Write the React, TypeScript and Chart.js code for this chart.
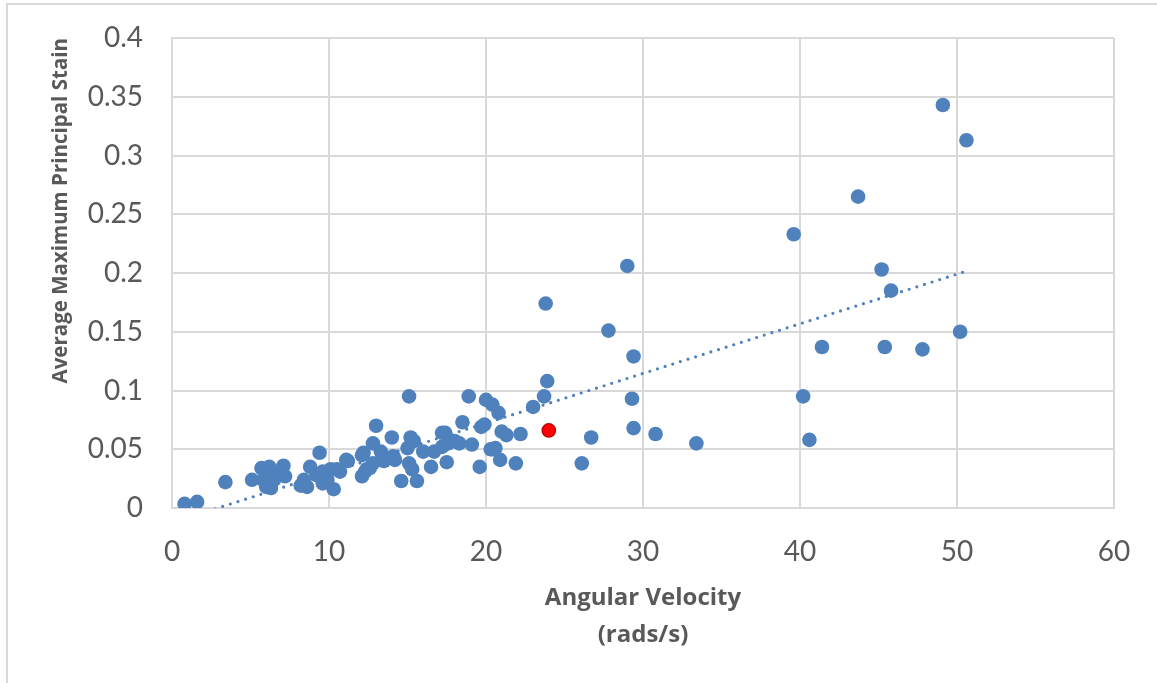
import React, { useEffect, useRef } from "react";
import { Chart, registerables } from "chart.js";

Chart.register(...registerables);

// Angular velocity (rads/s) of each test
const velocity: number[] = [
  0.8, 1.6, 3.4, 5.1, 5.7, 6.2, 7.1, 5.8, 6.0, 6.3, 6.5, 6.8, 7.2, 6.0, 6.5,
  8.2, 8.4, 8.6, 8.8, 9.4, 9.2, 9.6, 9.6, 9.9, 10.1, 10.5, 10.3, 10.7, 11.2,
  11.1, 12.1, 12.2, 12.3, 12.1, 12.4, 12.6, 12.8, 12.8, 13.0, 13.3, 13.5, 13.9,
  14.0, 14.1, 14.2, 14.6, 15.0, 15.1, 15.1, 15.2, 15.3, 15.4, 15.6, 16.0, 16.5,
  16.7, 17.2, 17.2, 17.4, 17.5, 17.6, 18.0, 18.3, 18.5, 18.9, 19.1, 19.6, 19.7,
  19.9, 20.0, 20.3, 20.4, 20.4, 20.6, 20.8, 20.9, 21.0, 21.3, 21.9, 22.2, 23.0,
  23.7, 23.9, 23.8, 26.1, 26.7, 27.8, 29.0, 29.3, 29.4, 29.4, 30.8, 33.4, 39.6,
  40.2, 40.6, 41.4, 43.7, 45.2, 45.4, 45.8, 47.8, 49.1, 50.2, 50.6,
];

// Average maximum principal strain of each test
const strain: number[] = [
  0.0035, 0.0052, 0.022, 0.024, 0.034, 0.035, 0.036, 0.024, 0.018, 0.017,
  0.024, 0.028, 0.027, 0.030, 0.031, 0.019, 0.024, 0.018, 0.035, 0.047, 0.028,
  0.031, 0.021, 0.024, 0.033, 0.033, 0.016, 0.031, 0.040, 0.041, 0.045, 0.047,
  0.031, 0.027, 0.033, 0.034, 0.038, 0.055, 0.070, 0.048, 0.040, 0.043, 0.060,
  0.044, 0.041, 0.023, 0.051, 0.038, 0.095, 0.060, 0.033, 0.057, 0.023, 0.048,
  0.035, 0.048, 0.052, 0.064, 0.064, 0.039, 0.055, 0.057, 0.055, 0.073, 0.095,
  0.054, 0.035, 0.069, 0.071, 0.092, 0.050, 0.088, 0.050, 0.051, 0.081, 0.041,
  0.065, 0.062, 0.038, 0.063, 0.086, 0.095, 0.108, 0.174, 0.038, 0.060, 0.151,
  0.206, 0.093, 0.129, 0.068, 0.063, 0.055, 0.233, 0.095, 0.058, 0.137, 0.265,
  0.203, 0.137, 0.185, 0.135, 0.343, 0.150, 0.313,
];

// Highlighted test
const highlightVelocity: number[] = [24.0];
const highlightStrain: number[] = [0.066];

// Linear trendline end points
const trendVelocity: number[] = [0.8, 50.6];
const trendStrain: number[] = [-0.0089, 0.2016];

// Axis tick labels
const xTickLabels: string[] = ["0", "10", "20", "30", "40", "50", "60"];
const yTickLabels: string[] = ["0", "0.05", "0.1", "0.15", "0.2", "0.25", "0.3", "0.35", "0.4"];

const BLUE = "#4F81BD";
const GRID = "#d9d9d9";
const TEXT = "#595959";
const TICK_FONT = "Lato, 'Open Sans', sans-serif";
const TITLE_FONT = "'Open Sans', sans-serif";

export default function App() {
  const canvasRef = useRef<HTMLCanvasElement | null>(null);

  useEffect(() => {
    const canvas = canvasRef.current;
    if (!canvas) return;

    const points = velocity.map((x, i) => ({ x, y: strain[i] }));
    const highlight = highlightVelocity.map((x, i) => ({ x, y: highlightStrain[i] }));
    const trend = trendVelocity.map((x, i) => ({ x, y: trendStrain[i] }));

    const chart = new Chart(canvas, {
      type: "scatter",
      data: {
        datasets: [
          {
            label: "Strain",
            data: points,
            backgroundColor: BLUE,
            borderColor: BLUE,
            pointRadius: 7.3,
            pointBorderWidth: 0,
            order: 3,
          },
          {
            label: "Trend",
            type: "line",
            data: trend,
            borderColor: BLUE,
            borderWidth: 3.2,
            borderDash: [0, 8],
            borderCapStyle: "round",
            pointRadius: 0,
            fill: false,
            order: 2,
          } as any,
          {
            label: "Highlight",
            data: highlight,
            backgroundColor: "#FF0000",
            borderColor: "#C00000",
            pointRadius: 6.6,
            pointBorderWidth: 1.5,
            order: 1,
          },
        ],
      },
      options: {
        responsive: false,
        animation: false,
        layout: { padding: { top: 38, right: 43, left: 0, bottom: 0 } },
        plugins: {
          legend: { display: false },
          tooltip: { enabled: false },
        },
        scales: {
          x: {
            type: "linear",
            min: 0,
            max: 60,
            afterBuildTicks: (scale: any) => {
              scale.ticks = xTickLabels.map((t) => ({ value: Number(t) }));
            },
            ticks: {
              callback: (_v: any, i: number) => xTickLabels[i],
              color: TEXT,
              font: { family: TICK_FONT, size: 28 },
              padding: 27,
              maxRotation: 0,
            },
            grid: { color: GRID, lineWidth: 2, drawTicks: false },
            border: { color: GRID, width: 2 },
            title: {
              display: true,
              text: ["Angular Velocity", "(rads/s)"],
              color: TEXT,
              font: { family: TITLE_FONT, size: 24, weight: "bold", lineHeight: 1.54 },
              padding: { top: 0, bottom: 29 },
            },
            afterFit: (scale: any) => {
              scale.height = 683 - 508;
              scale.paddingLeft = 0;
              scale.paddingRight = 0;
            },
          },
          y: {
            type: "linear",
            min: 0,
            max: 0.4,
            afterBuildTicks: (scale: any) => {
              scale.ticks = yTickLabels.map((t) => ({ value: Number(t) }));
            },
            ticks: {
              callback: (_v: any, i: number) => yTickLabels[i],
              color: TEXT,
              font: { family: TICK_FONT, size: 28 },
              padding: 29,
            },
            grid: { color: GRID, lineWidth: 2, drawTicks: false },
            border: { color: GRID, width: 2 },
            title: {
              display: true,
              text: "Average Maximum Principal Stain",
              align: "end",
              color: TEXT,
              font: { family: TITLE_FONT, size: 20.5, weight: "bold", lineHeight: 1.2 },
              padding: { top: 49, bottom: 0 },
            },
            afterFit: (scale: any) => {
              scale.width = 172;
              scale.paddingTop = 0;
              scale.paddingBottom = 0;
            },
          },
        },
      },
    });

    return () => chart.destroy();
  }, []);

  return (
    <div style={{ position: "absolute", left: 0, top: 0, width: 1157, height: 683, background: "#fff" }}>
      <div
        style={{
          position: "absolute",
          left: 6,
          top: 3,
          right: 0,
          bottom: 0,
          borderLeft: `2px solid ${GRID}`,
          borderTop: `2px solid ${GRID}`,
        }}
      />
      <canvas
        ref={canvasRef}
        width={1157}
        height={683}
        style={{ position: "absolute", left: 0, top: 0 }}
      />
    </div>
  );
}
